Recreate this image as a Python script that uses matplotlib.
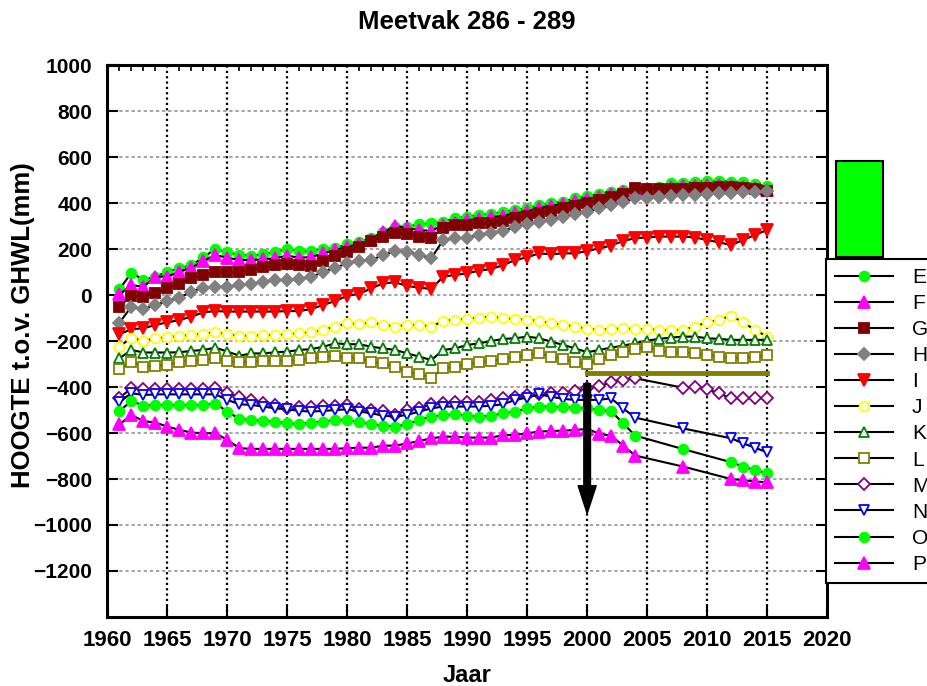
import matplotlib
matplotlib.use('Agg')
import matplotlib.pyplot as plt
from matplotlib.patches import Rectangle

plt.rcParams['font.family'] = ['Liberation Sans', 'DejaVu Sans']

# jaren
years = list(range(1961, 2016))
years_m = list(range(1961, 2005)) + list(range(2008, 2016))
years_nop = list(range(1961, 2005)) + [2008, 2012, 2013, 2014, 2015]

E = [25, 97, 65, 80, 101, 116, 130, 164, 200, 186, 174, 171, 177, 186, 200, 190, 190, 200, 203, 222,
     230, 247, 276, 297, 297, 307, 312, 319, 333, 341, 348, 352, 362, 370, 377, 391, 399, 406, 420, 430,
     440, 447, 456, 464, 467, 471, 486, 486, 493, 496, 496, 493, 490, 481, 475]
F = [3, 43, 36, 80, 80, 102, 119, 148, 174, 162, 152, 152, 155, 160, 171, 162, 165, 181, 196, 210,
     222, 240, 272, 300, 290, 283, 278, 305, 315, 325, 330, 338, 345, 355, 365, 378, 388, 395, 408, 418,
     428, 438, 448, 455, 460, 462, 470, 472, 475, 478, 478, 475, 470, 465, 455]
G = [-50, -3, -9, 10, 29, 49, 73, 87, 102, 99, 99, 109, 120, 130, 133, 130, 128, 148, 170, 187,
     210, 235, 254, 268, 264, 254, 249, 293, 304, 304, 312, 315, 322, 333, 345, 355, 365, 377, 388, 399,
     415, 426, 440, 464, 462, 461, 461, 461, 467, 467, 471, 471, 467, 461, 452]
H = [-120, -50, -61, -43, -26, -12, 15, 32, 36, 36, 43, 48, 58, 65, 65, 70, 78, 101, 119, 138,
     150, 152, 174, 191, 189, 174, 160, 239, 247, 250, 261, 268, 278, 297, 309, 319, 326, 341, 351, 362,
     377, 390, 405, 420, 423, 428, 432, 435, 435, 438, 442, 442, 446, 449, 452]
I = [-171, -148, -145, -130, -119, -109, -94, -75, -70, -72, -72, -72, -72, -72, -70, -70, -61, -43, -26, -3,
     5, 29, 51, 55, 39, 32, 26, 80, 87, 94, 106, 113, 130, 152, 164, 181, 177, 181, 181, 191,
     203, 215, 235, 247, 250, 254, 254, 254, 250, 239, 229, 217, 239, 261, 283]
J = [-224, -185, -200, -188, -184, -178, -174, -168, -162, -171, -177, -178, -174, -174, -171, -166, -162, -152, -137, -123,
     -127, -119, -130, -137, -130, -130, -137, -113, -108, -104, -98, -94, -101, -104, -108, -113, -123, -130, -137, -148,
     -150, -148, -145, -148, -148, -152, -152, -152, -137, -119, -108, -90, -119, -152, -181]
K = [-275, -239, -250, -250, -250, -249, -243, -239, -229, -246, -264, -254, -254, -249, -246, -239, -235, -225, -210, -214,
     -214, -225, -232, -239, -254, -268, -283, -239, -232, -217, -210, -200, -191, -188, -181, -188, -203, -217, -232, -249,
     -239, -229, -220, -210, -198, -191, -185, -181, -181, -188, -191, -195, -195, -195, -195]
L = [-322, -290, -311, -308, -304, -290, -287, -283, -275, -287, -293, -290, -287, -285, -285, -283, -275, -268, -264, -272,
     -275, -290, -297, -311, -336, -345, -359, -319, -311, -301, -293, -287, -278, -268, -261, -254, -268, -278, -293, -301,
     -278, -263, -249, -235, -225, -243, -249, -249, -254, -261, -268, -275, -272, -268, -261]
M = [-446, -406, -409, -409, -409, -409, -409, -409, -403, -425, -445, -456, -468, -478, -490, -488, -488, -481, -481, -478,
     -496, -500, -504, -521, -500, -490, -475, -471, -466, -466, -466, -456, -449, -442, -435, -432, -427, -425, -417, -405,
     -396, -380, -368, -362, -403, -398, -409, -428, -449, -449, -449, -449]
N = [-464, -427, -435, -432, -432, -432, -432, -432, -432, -456, -475, -478, -485, -493, -497, -504, -507, -504, -500, -497,
     -507, -514, -525, -529, -521, -507, -493, -485, -485, -485, -485, -481, -475, -456, -446, -432, -442, -452, -456, -456,
     -456, -449, -493, -533, -580, -623, -645, -664, -684]
O = [-504, -461, -481, -478, -478, -478, -478, -478, -472, -507, -539, -543, -548, -551, -558, -562, -555, -551, -543, -543,
     -553, -562, -568, -572, -562, -543, -529, -522, -519, -525, -529, -525, -514, -507, -493, -485, -485, -488, -490, -493,
     -500, -505, -558, -611, -670, -727, -746, -761, -775]
P = [-562, -522, -548, -555, -572, -587, -598, -601, -601, -630, -666, -669, -669, -669, -669, -669, -669, -669, -669, -666,
     -664, -664, -655, -655, -645, -635, -623, -616, -616, -620, -620, -620, -609, -609, -601, -594, -591, -590, -587, -582,
     -603, -612, -655, -698, -746, -800, -805, -811, -814]

names = ['E', 'F', 'G', 'H', 'I', 'J', 'K', 'L', 'M', 'N', 'O', 'P']
series = [E, F, G, H, I, J, K, L, M, N, O, P]
xs = [years] * 8 + [years_m, years_nop, years_nop, years_nop]

# marker, vulkleur, randkleur, grootte
styles = [('o', '#00ff00', '#00ff00', 7),
          ('^', '#ff00ff', '#ff00ff', 8),
          ('s', '#800000', '#800000', 7),
          ('D', '#808080', '#808080', 6),
          ('v', '#ff0000', '#ff0000', 8),
          ('o', 'white', '#ffff00', 7),
          ('^', 'white', '#008000', 7.5),
          ('s', 'white', '#808000', 7),
          ('D', 'white', '#800080', 6),
          ('v', 'white', '#0000ff', 7.5),
          ('o', '#00ff00', '#00ff00', 7),
          ('^', '#ff00ff', '#ff00ff', 8)]

fig = plt.figure(figsize=(9.28, 6.86), dpi=100)
ax = fig.add_axes([107.5/928, 1-617/686, (827-107.5)/928, (617-65)/686])

for name, vals, x, st in zip(names, series, xs, styles):
    m, fc, ec, ms = st
    ax.plot(x, vals, color='k', lw=1.5, marker=m, ms=ms, mfc=fc, mec=ec, mew=1.3,
            label=name, zorder=3)

# olijfgroene lijn en pijl bij 2000
ax.plot([2000, 2015], [-340, -340], color='#808000', lw=3.5, zorder=4)
ax.annotate('', xy=(2000, -950), xytext=(2000, -385),
            arrowprops=dict(arrowstyle='simple,head_length=1.0,head_width=0.65,tail_width=0.24',
                            color='k', mutation_scale=20, shrinkA=0, shrinkB=0), zorder=5)

# rasterlijnen
for v in range(-1200, 1000, 200):
    ax.axhline(v, color='#8c8c8c', ls=(0, (2.2, 1.8)), lw=1.1, zorder=1)
for yr in range(1965, 2020, 5):
    ax.axvline(yr, color='k', ls=(0, (1, 1.4)), lw=1.6, zorder=1)

ax.set_xlim(1960, 2020)
ax.set_ylim(-1400, 1000)
ax.set_xticks(range(1960, 2021, 5))
ax.set_yticks(range(-1200, 1001, 200))
ax.set_xticks(range(1960, 2021), minor=True)
ax.tick_params(which='major', direction='in', length=8, width=1.5, right=True)
ax.tick_params(which='minor', direction='in', length=4, width=1.2, top=True, bottom=False)
ax.tick_params(axis='y', labelsize=15, pad=11)
ax.tick_params(axis='x', labelsize=16, pad=9)
for lab in ax.get_xticklabels() + ax.get_yticklabels():
    lab.set_fontweight('bold')
for sp in ax.spines.values():
    sp.set_linewidth(2.2)

fig.text(0.503, 1-22/686, 'Meetvak 286 - 289', ha='center', va='center',
         fontsize=18.5, fontweight='bold')
fig.text(23/928, 1-325/686, 'HOOGTE t.o.v. GHWL(mm)', ha='center', va='center',
         rotation=90, fontsize=18.5, fontweight='bold')
fig.text(467/928, 1-676/686, 'Jaar', ha='center', va='center', fontsize=17, fontweight='bold')

leg = ax.legend(loc='upper left', bbox_to_anchor=(826/928, 1-259/686), bbox_transform=fig.transFigure,
                fancybox=False, edgecolor='k', fontsize=15, handlelength=2.8, handletextpad=0.9,
                borderpad=0.43, labelspacing=0.34, numpoints=1, borderaxespad=0, framealpha=1)
leg.get_frame().set_linewidth(1.5)

# groen vlak boven de legenda
fig.add_artist(Rectangle((836/928, 1-257/686), 47/928, 96/686, transform=fig.transFigure,
                         facecolor='#00ff00', edgecolor='k', lw=1.5))

fig.savefig('out.png', dpi=100)
